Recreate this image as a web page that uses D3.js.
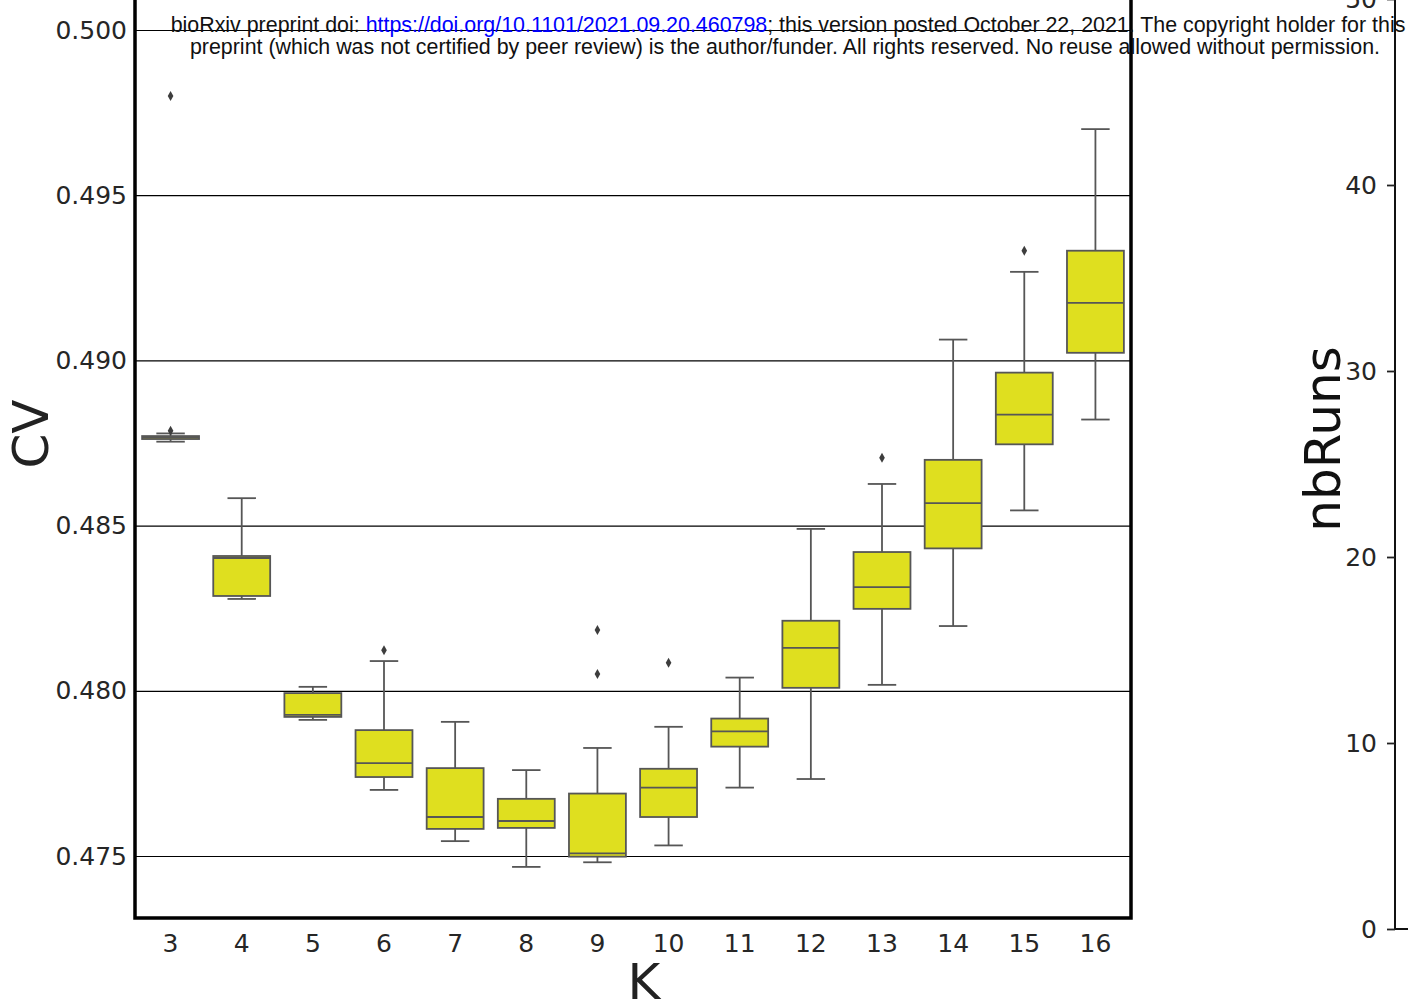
<!DOCTYPE html>
<html lang="en">
<head>
  <meta charset="UTF-8">
  <title>CV by K</title>
  <style>
    body { margin: 0; padding: 0; background: #fff; }
    svg { display: block; font-family: "DejaVu Sans", sans-serif; }
    .tick text { fill: #262626; }
  </style>
</head>
<body>
<svg width="1408" height="1005"></svg>
<script src="https://d3js.org/d3.v7.min.js"></script>
<script>
// values
const kValues     = [3, 4, 5, 6, 7, 8, 9, 10, 11, 12, 13, 14, 15, 16];
const whiskerLow  = [0.48754, 0.48278, 0.47912, 0.47700, 0.47545, 0.47467, 0.47481, 0.47532, 0.47707, 0.47733, 0.48018, 0.48196, 0.48546, 0.48821];
const q1          = [0.48762, 0.48287, 0.47921, 0.47739, 0.47582, 0.47585, 0.47498, 0.47618, 0.47831, 0.48009, 0.48248, 0.48431, 0.48746, 0.49023];
const median      = [0.48767, 0.48402, 0.47927, 0.47781, 0.47618, 0.47606, 0.47508, 0.47707, 0.47877, 0.48130, 0.48314, 0.48568, 0.48836, 0.49174];
const q3          = [0.48771, 0.48408, 0.47993, 0.47881, 0.47766, 0.47673, 0.47689, 0.47764, 0.47916, 0.48212, 0.48420, 0.48699, 0.48963, 0.49332];
const whiskerHigh = [0.48779, 0.48583, 0.48012, 0.48090, 0.47906, 0.47760, 0.47827, 0.47891, 0.48040, 0.48490, 0.48626, 0.49063, 0.49268, 0.49700];
const outliers    = [[0.48787, 0.49800], [], [], [0.48123], [], [], [0.48184, 0.48051], [0.48085], [], [], [0.48705], [], [0.49332], []];
const cvTicks     = [0.475, 0.480, 0.485, 0.490, 0.495, 0.500];
const runTicks    = [0, 10, 20, 30, 40, 50];

const svg = d3.select("svg");

const plotL = 135, plotR = 1131, plotB = 918, plotT = -6;

const x = d3.scaleBand().domain(kValues).range([plotL, plotR]).padding(0);
const y = d3.scaleLinear().domain([0.475, 0.500]).range([856, 30]);
const boxW = x.bandwidth() * 0.8;

// grid + y labels
const yAxis = svg.append("g")
  .attr("transform", `translate(${plotL},0)`)
  .call(d3.axisLeft(y).tickValues(cvTicks).tickFormat(d3.format(".3f"))
    .tickSize(-(plotR - plotL)).tickPadding(8));
yAxis.select(".domain").remove();
yAxis.selectAll(".tick line").attr("stroke", "#000").attr("stroke-width", 1.2);
yAxis.selectAll(".tick text").attr("font-size", 25).attr("font-family", "DejaVu Sans");

// x labels
const xAxis = svg.append("g")
  .attr("transform", `translate(0,${plotB})`)
  .call(d3.axisBottom(x).tickSize(0).tickPadding(16));
xAxis.select(".domain").remove();
xAxis.selectAll(".tick text").attr("font-size", 25).attr("font-family", "DejaVu Sans");

// boxes
const boxes = kValues.map((k, i) => ({
  k, lo: whiskerLow[i], q1: q1[i], med: median[i], q3: q3[i], hi: whiskerHigh[i], out: outliers[i]
}));

const g = svg.append("g");
const box = g.selectAll("g.box").data(boxes).join("g").attr("class", "box")
  .attr("transform", d => `translate(${x(d.k) + x.bandwidth() / 2},0)`);

const stroke = "#565656";
box.append("line").attr("y1", d => y(d.lo)).attr("y2", d => y(d.q1))
  .attr("stroke", stroke).attr("stroke-width", 1.8);
box.append("line").attr("y1", d => y(d.q3)).attr("y2", d => y(d.hi))
  .attr("stroke", stroke).attr("stroke-width", 1.8);
box.append("line").attr("x1", -boxW / 4).attr("x2", boxW / 4)
  .attr("y1", d => y(d.lo)).attr("y2", d => y(d.lo))
  .attr("stroke", stroke).attr("stroke-width", 1.8);
box.append("line").attr("x1", -boxW / 4).attr("x2", boxW / 4)
  .attr("y1", d => y(d.hi)).attr("y2", d => y(d.hi))
  .attr("stroke", stroke).attr("stroke-width", 1.8);
box.append("rect")
  .attr("x", -boxW / 2).attr("width", boxW)
  .attr("y", d => y(d.q3)).attr("height", d => Math.max(1, y(d.q1) - y(d.q3)))
  .attr("fill", "#dfdf1f").attr("stroke", stroke).attr("stroke-width", 1.8);
box.append("line").attr("x1", -boxW / 2).attr("x2", boxW / 2)
  .attr("y1", d => y(d.med)).attr("y2", d => y(d.med))
  .attr("stroke", stroke).attr("stroke-width", 1.8);
box.selectAll("path.flier").data(d => d.out).join("path").attr("class", "flier")
  .attr("d", v => `M0,${y(v) - 5} L2.8,${y(v)} L0,${y(v) + 5} L-2.8,${y(v)} Z`)
  .attr("fill", "#3d3d3d");

// frame
svg.append("path")
  .attr("d", `M${plotL},${plotT} V${plotB} H${plotR} V${plotT}`)
  .attr("fill", "none").attr("stroke", "#000").attr("stroke-width", 3.5);

// axis titles
svg.append("text").attr("x", 644).attr("y", 999).attr("text-anchor", "middle")
  .attr("font-size", 50).attr("fill", "#222").text("K");
svg.append("text").attr("transform", "translate(48,434) rotate(-90)").attr("text-anchor", "middle")
  .attr("font-size", 50).attr("fill", "#222").text("CV");

// second panel: nbRuns axis
const y2 = d3.scaleLinear().domain([0, 50]).range([929, -1]);
const rAxis = svg.append("g").attr("transform", "translate(1395,0)")
  .call(d3.axisLeft(y2).tickValues(runTicks).tickSize(8).tickPadding(10));
rAxis.select(".domain").attr("stroke", "#111").attr("stroke-width", 2).attr("d", "M0,-10V929");
rAxis.selectAll(".tick line").attr("stroke", "#222").attr("stroke-width", 1.8);
rAxis.selectAll(".tick text").attr("font-size", 25).attr("font-family", "DejaVu Sans");
svg.append("line").attr("x1", 1395).attr("x2", 1408).attr("y1", 929).attr("y2", 929)
  .attr("stroke", "#111").attr("stroke-width", 2);
svg.append("text").attr("transform", "translate(1340,439) rotate(-90)").attr("text-anchor", "middle")
  .attr("font-size", 50).attr("fill", "#111").text("nbRuns");

// preprint banner
const banner = svg.append("text").attr("font-family", "Liberation Sans, Arial, sans-serif")
  .attr("font-size", 21.4).attr("fill", "#111").attr("text-anchor", "middle");
const l1 = banner.append("tspan").attr("x", 788).attr("y", 32);
l1.append("tspan").text("bioRxiv preprint doi: ");
l1.append("tspan").attr("fill", "#0000ff").text("https://doi.org/10.1101/2021.09.20.460798");
l1.append("tspan").text("; this version posted October 22, 2021. The copyright holder for this");
banner.append("tspan").attr("x", 785).attr("y", 54)
  .text("preprint (which was not certified by peer review) is the author/funder. All rights reserved. No reuse allowed without permission.");
</script>
</body>
</html>
